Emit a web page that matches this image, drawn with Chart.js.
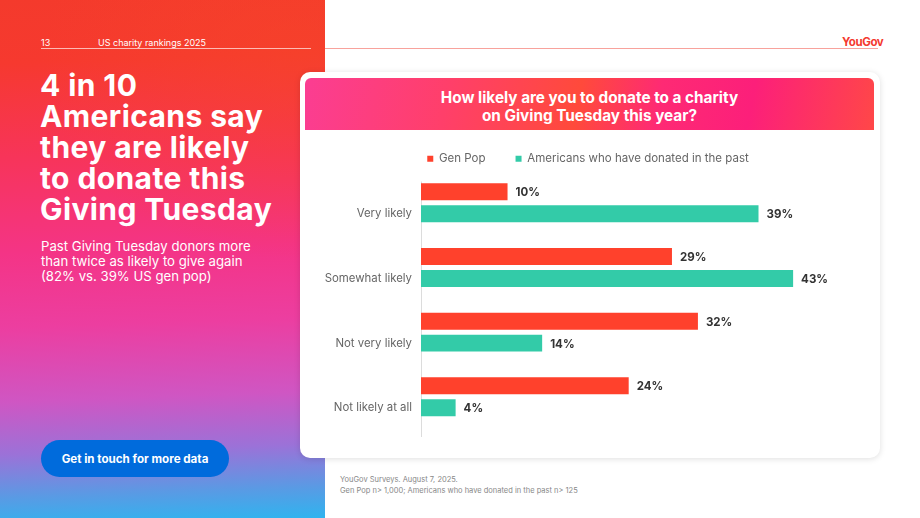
<!DOCTYPE html>
<html>
<head>
<meta charset="utf-8">
<script src="https://cdn.jsdelivr.net/npm/chart.js@4.4.1/dist/chart.umd.min.js"></script>
<style>
  html, body { margin: 0; padding: 0; }
  body {
    width: 920px; height: 518px; position: relative; overflow: hidden;
    background: #fff; font-family: Inter, "Noto Sans", sans-serif;
  }
  .left {
    position: absolute; left: 0; top: 0; width: 325px; height: 518px;
    background:
      radial-gradient(ellipse 260px 200px at 300px 60px, rgba(246,70,40,0.55), rgba(246,70,40,0) 100%),
      linear-gradient(178deg, #f43a2c 0%, #f6392f 12%, #f7345a 30%, #f43486 48%, #ec3ea0 62%, #cf56c3 76%, #9b72d8 86%, #5a9ae4 94%, #2fb4ef 100%);
    color: #fff;
  }
  .pageno { position: absolute; left: 41px; top: 37px; font-size: 9px; }
  .section { position: absolute; left: 98px; top: 37px; font-size: 9px; }
  .lline { position: absolute; left: 41px; top: 48px; width: 270px; height: 1px; background: rgba(255,255,255,0.65); }
  .headline {
    position: absolute; left: 40px; top: 70px; font-weight: 700; font-size: 30px;
    line-height: 31px; letter-spacing: 0.4px; margin: 0;
  }
  .sub {
    position: absolute; left: 41px; top: 239px; font-size: 13.2px; line-height: 15px; width: 270px;
  }
  .btn {
    position: absolute; left: 41px; top: 440px; width: 188px; height: 37px; border-radius: 19px;
    background: #006bdc; color: #fff; font-weight: 700; font-size: 11.6px;
    display: flex; align-items: center; justify-content: center;
  }
  .rline { position: absolute; left: 325px; top: 48px; width: 553px; height: 1px; background: #f8a29c; }
  .logo { position: absolute; left: 842px; top: 35px; font-size: 11.5px; font-weight: 700; color: #f4392f; letter-spacing: -0.4px; }
  .card {
    position: absolute; left: 300px; top: 72px; width: 580px; height: 386px; background: #fff;
    border-radius: 10px; box-shadow: 0 1px 6px rgba(0,0,0,0.13);
  }
  .band {
    position: absolute; left: 305px; top: 78px; width: 569px; height: 52px; border-radius: 6px 6px 0 0;
    background: linear-gradient(100deg, #fb3d92 0%, #ff3f6a 25%, #ff4a3b 48%, #fe2a74 62%, #fc1f7a 78%, #ff4748 100%);
    color: #fff; font-weight: 700; font-size: 15.3px; line-height: 18px; text-align: center;
    box-sizing: border-box; padding-top: 5px;
    display: flex; align-items: center; justify-content: center;
  }
  .chartbox { position: absolute; left: 305px; top: 123px; width: 570px; height: 314px; }
  .foot { position: absolute; left: 340px; top: 474px; font-size: 7.5px; line-height: 11px; color: #888; }
</style>
</head>
<body>
<div class="left">
  <div class="pageno">13</div>
  <div class="section">US charity rankings 2025</div>
  <div class="lline"></div>
  <p class="headline">4 in 10<br>Americans say<br>they are likely<br>to donate this<br>Giving Tuesday</p>
  <div class="sub">Past Giving Tuesday donors more<br>than twice as likely to give again<br>(82% vs. 39% US gen pop)</div>
  <div class="btn">Get in touch for more data</div>
</div>
<div class="rline"></div>
<div class="logo">YouGov</div>
<div class="card"></div>
<div class="band">How likely are you to donate to a charity<br>on Giving Tuesday this year?</div>
<div class="chartbox"><canvas id="chart"></canvas></div>
<div class="foot">YouGov Surveys. August 7, 2025.<br>Gen Pop n&gt; 1,000; Americans who have donated in the past n&gt; 125</div>

<script>
const categories = ['Very likely', 'Somewhat likely', 'Not very likely', 'Not likely at all'];
const genPop = [10, 29, 32, 24];
const pastDonors = [39, 43, 14, 4];
const seriesNames = ['Gen Pop', 'Americans who have donated in the past'];

// tighten the space between legend and bars
const legendGap = {
  id: 'legendGap',
  beforeInit(chart) {
    const fit = chart.legend.fit;
    chart.legend.fit = function () {
      fit.call(this);
      this.height -= 4;
    };
  }
};

// axis line sits a little lower than the category band
const axisLine = {
  id: 'axisLine',
  beforeDatasetsDraw(chart) {
    const { ctx, chartArea } = chart;
    ctx.save();
    ctx.strokeStyle = '#dcdcdc';
    ctx.lineWidth = 1;
    ctx.beginPath();
    ctx.moveTo(chartArea.left + 0.5, chartArea.top + 11);
    ctx.lineTo(chartArea.left + 0.5, chartArea.bottom + 9);
    ctx.stroke();
    ctx.restore();
  }
};

// percent labels at the end of each bar
const valueLabels = {
  id: 'valueLabels',
  afterDatasetsDraw(chart) {
    const ctx = chart.ctx;
    ctx.save();
    ctx.font = '700 11.5px Inter, sans-serif';
    ctx.fillStyle = '#333';
    ctx.textBaseline = 'middle';
    chart.data.datasets.forEach((ds, i) => {
      chart.getDatasetMeta(i).data.forEach((bar, j) => {
        ctx.fillText(ds.data[j] + '%', bar.x + 8, bar.y + 1);
      });
    });
    ctx.restore();
  }
};

new Chart(document.getElementById('chart').getContext('2d'), {
  type: 'bar',
  data: {
    labels: categories,
    datasets: [
      {
        label: seriesNames[0],
        data: genPop,
        backgroundColor: '#ff412c',
        barPercentage: 0.77,
        categoryPercentage: 0.68
      },
      {
        label: seriesNames[1],
        data: pastDonors,
        backgroundColor: '#33cba8',
        barPercentage: 0.77,
        categoryPercentage: 0.68
      }
    ]
  },
  options: {
    indexAxis: 'y',
    responsive: true,
    maintainAspectRatio: false,
    animation: false,
    layout: { padding: { right: 4, bottom: 0 } },
    scales: {
      x: {
        display: false,
        min: 0,
        max: 52
      },
      y: {
        grid: { display: false },
        border: { display: false },
        ticks: {
          color: '#666',
          font: { family: 'Inter, sans-serif', size: 11.4 },
          padding: 1,
          labelOffset: 11
        },
        afterFit: (scale) => { scale.width = 116; }
      }
    },
    plugins: {
      legend: {
        position: 'top',
        labels: {
          usePointStyle: true,
          pointStyle: 'rect',
          boxWidth: 6,
          boxHeight: 6,
          color: '#666',
          padding: 30,
          font: { family: 'Inter, sans-serif', size: 11.5 }
        }
      },
      tooltip: { enabled: false }
    }
  },
  plugins: [legendGap, axisLine, valueLabels]
});
</script>
</body>
</html>
